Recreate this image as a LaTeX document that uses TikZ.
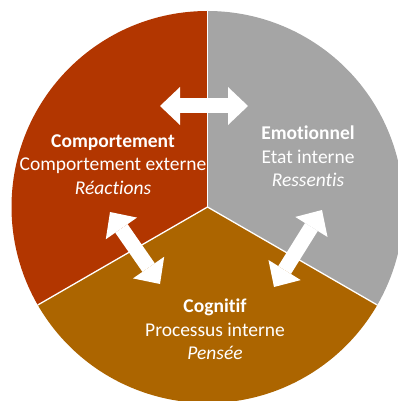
\documentclass[tikz,border=0pt]{standalone}
\usepackage{fontspec}
\setmainfont{Carlito}[Ligatures=NoCommon]
\usetikzlibrary{arrows.meta}
\definecolor{cRed}{HTML}{B23600}
\definecolor{cGray}{HTML}{A5A5A5}
\definecolor{cBrown}{HTML}{AC6500}
\begin{document}
\begin{tikzpicture}[x=1pt,y=1pt,
  sep/.style={draw=white, line width=1.3pt},
  lbl/.style={text=white, align=center, font=\fontsize{19.5}{23.5}\selectfont, inner sep=0pt},
  blockarrow/.style={draw=white, line width=15pt,
    {Triangle[length=20pt,width=38pt,line width=0pt]}-{Triangle[length=20pt,width=38pt,line width=0pt]}}
]
\useasboundingbox (0,-401) rectangle (398,0);
\clip (0,-401) rectangle (398,0);
\coordinate (C) at (207.5,-207);
\def\R{196}
% sectors
\fill[cRed] (C) -- ++(90:\R) arc[start angle=90, end angle=210, radius=\R] -- cycle;
\fill[cGray] (C) -- ++(-30:\R) arc[start angle=-30, end angle=90, radius=\R] -- cycle;
\fill[cBrown] (C) -- ++(210:\R) arc[start angle=210, end angle=330, radius=\R] -- cycle;
% separators
\draw[sep] (C) -- ++(90:\R);
\draw[sep] (C) -- ++(210:\R);
\draw[sep] (C) -- ++(330:\R);
% labels
\node[lbl] (comp) at (113,-164.5) {\textbf{Comportement}\\Comportement externe\\\textit{Réactions}};
\node[lbl] (emo) at (308,-156.5) {\textbf{Emotionnel}\\Etat interne\\\textit{Ressentis}};
\node[lbl] (cog) at (215,-329.5) {\textbf{Cognitif}\\Processus interne\\\textit{Pensée}};
% arrows
\coordinate (tA) at (160,-106);
\coordinate (tB) at (248,-106);
\coordinate (lA) at (110,-212);
\coordinate (lB) at (160,-284);
\coordinate (rA) at (322,-210);
\coordinate (rB) at (274,-287);
\draw[blockarrow] (tA) -- (tB);
\draw[blockarrow] (lA) -- (lB);
\draw[blockarrow] (rA) -- (rB);
\end{tikzpicture}
\end{document}
